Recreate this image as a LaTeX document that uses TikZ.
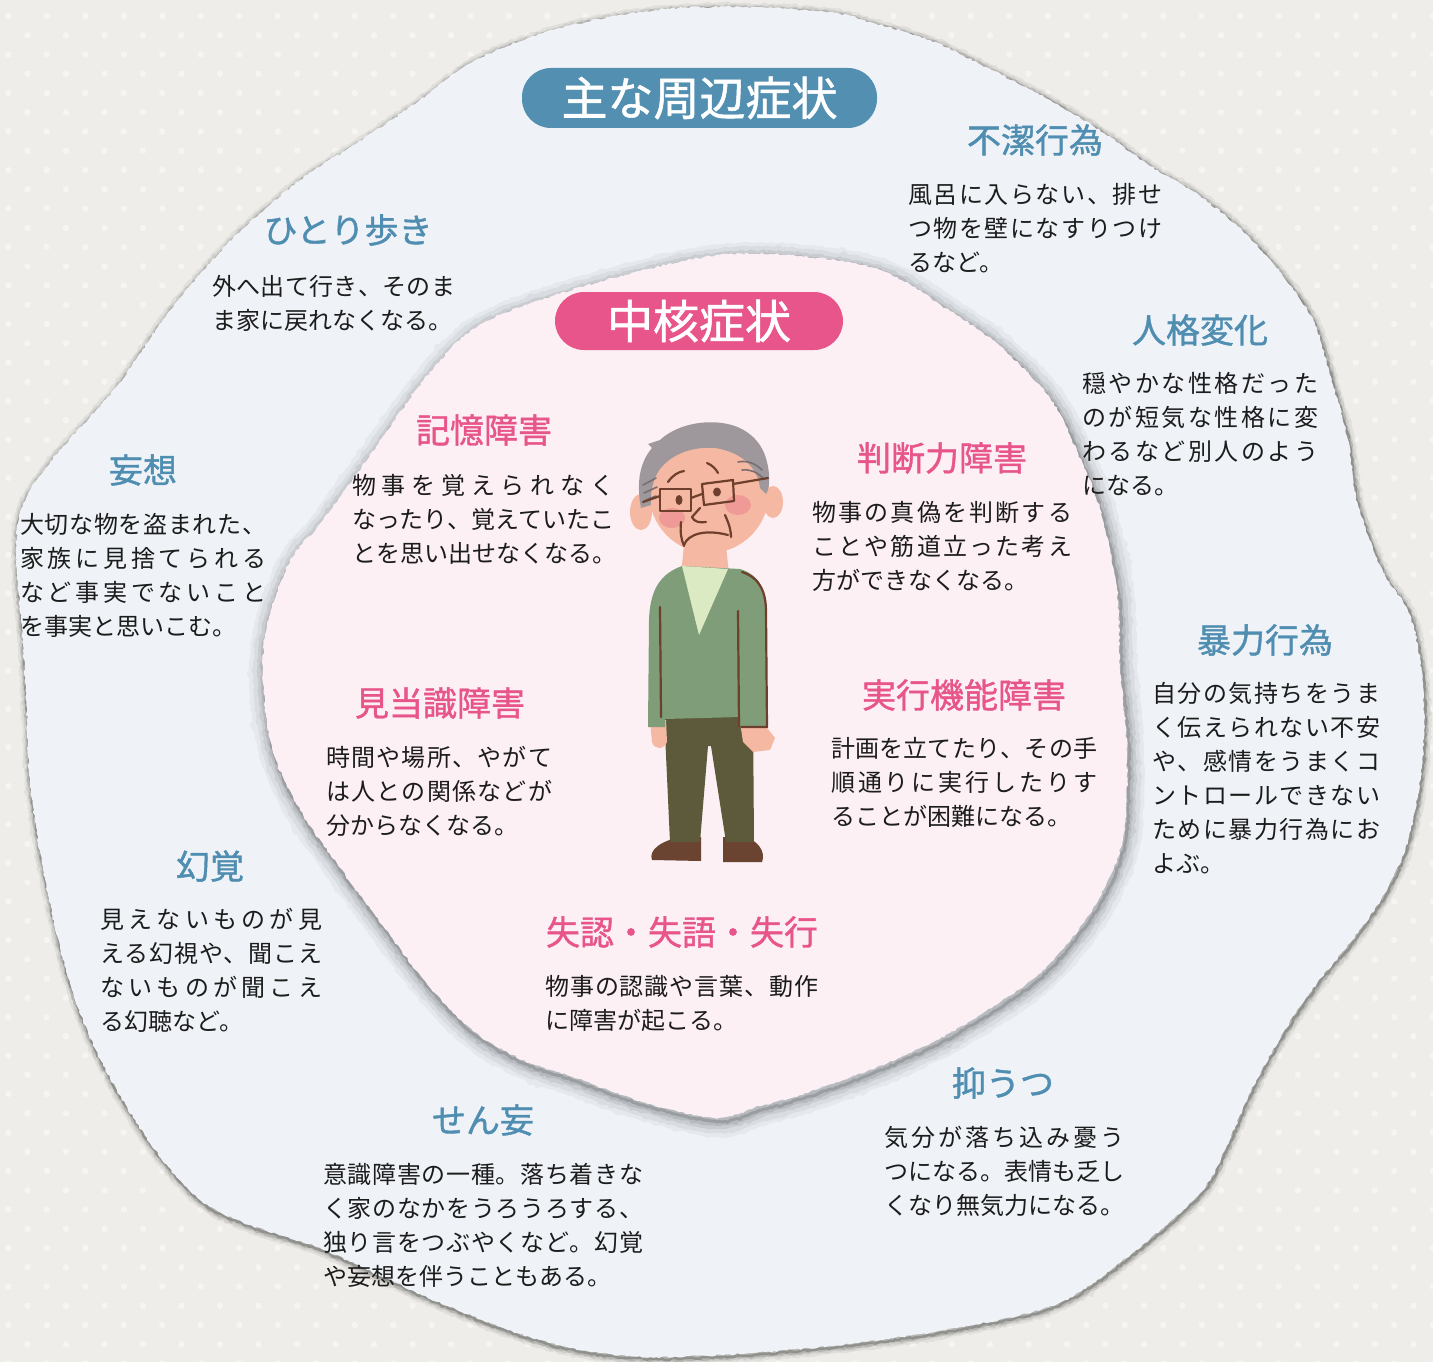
\documentclass[tikz,border=0pt]{standalone}
\usepackage{fontspec}
\newfontfamily\jp{Noto Sans CJK JP}
\newfontfamily\jph{Noto Sans CJK JP}[FakeBold=1.2]
\usetikzlibrary{decorations.pathmorphing}

\definecolor{bgc}{HTML}{EFEDE9}
\definecolor{dotc}{HTML}{F7F5F2}
\definecolor{outerc}{HTML}{EFF3F8}
\definecolor{innerc}{HTML}{FCF0F4}
\definecolor{bluec}{HTML}{4F8DB1}
\definecolor{pillblue}{HTML}{528FB1}
\definecolor{pinkc}{HTML}{E8558A}
\definecolor{textc}{HTML}{1C1C1C}
\definecolor{skin}{HTML}{F5B8A2}
\definecolor{hairc}{HTML}{9E979B}
\definecolor{hairline}{HTML}{7A6E70}
\definecolor{brownl}{HTML}{6E3F2C}
\definecolor{cheek}{HTML}{EF9A96}
\definecolor{sweater}{HTML}{7F9D78}
\definecolor{vneck}{HTML}{DCEAC4}
\definecolor{pants}{HTML}{5C5A3A}
\definecolor{shoe}{HTML}{6B4331}

% one justified line of Japanese text, spread to a given width
\makeatletter
\newcommand\jline[2]{\hbox to #1pt{\jl@first#2\jl@end}}
\def\jl@end{\jl@end@}
\def\jl@first#1{#1\jl@loop}
\def\jl@loop#1{\ifx#1\jl@end\else\jl@glue#1\expandafter\jl@loop\fi}
\def\jl@glue{\hskip 0pt plus 1fil minus 1pt}
\makeatother

\tikzset{
  outerblob/.style={insert path={plot[smooth cycle,tension=0.55] coordinates {
    (560,28) (656,10) (740,7) (829,12) (870,22) (930,40) (986,67) (1050,100)
    (1104,133) (1150,166) (1200,196) (1250,238) (1290,285) (1315,325) (1333,385)
    (1348,440) (1358,505) (1383,572) (1410,615) (1423,685) (1422,765) (1408,840)
    (1385,893) (1350,943) (1317,983) (1283,1033) (1250,1093) (1225,1150) (1200,1193)
    (1136,1250) (1059,1303) (957,1328) (855,1343) (753,1353) (651,1357) (580,1350)
    (517,1333) (450,1307) (383,1277) (317,1247) (250,1225) (200,1200) (150,1143)
    (100,1059) (67,974) (43,869) (30,784) (27,720) (23,645) (17,569) (20,512)
    (50,462) (117,386) (167,314) (233,238) (300,180) (357,143) (420,100) (475,60)}}},
  innerblob/.style={insert path={plot[smooth cycle,tension=0.55] coordinates {
    (720,255) (800,256) (883,271) (950,311) (1000,346) (1050,398) (1077,451)
    (1100,509) (1117,590) (1120,665) (1127,752) (1123,839) (1100,897) (1067,944)
    (1033,979) (983,1013) (933,1042) (867,1071) (800,1095) (760,1106) (715,1118)
    (640,1101) (573,1077) (523,1060) (473,1031) (427,984) (383,926) (340,868)
    (300,810) (273,752) (263,683) (267,625) (290,561) (323,520) (373,451)
    (423,381) (473,329) (540,300) (640,271)}}},
  torn/.style={decorate,decoration={random steps,segment length=3pt,amplitude=1pt}},
  bluehd/.style={font=\jph\fontsize{34}{40}\selectfont,text=bluec,inner sep=0pt},
  pinkhd/.style={font=\jph\fontsize{34}{40}\selectfont,text=pinkc,inner sep=0pt},
  body/.style={font=\jp\fontsize{24}{34}\selectfont,text=textc,align=left,anchor=north west,inner sep=0pt},
  pill/.style={rounded corners=29pt,minimum height=60pt,text=white,inner sep=0pt,
    font=\jph\fontsize{46}{50}\selectfont},
  fig/.style={line width=2.2pt,draw=brownl,line cap=round,line join=round},
}

\begin{document}
\begin{tikzpicture}[x=1pt,y=-1pt]
\useasboundingbox (0,0) rectangle (1433,1362);

% dotted paper background
\fill[bgc] (0,0) rectangle (1433,1362);
\foreach \i in {0,...,37}{
  \foreach \j in {0,...,35}{
    \fill[dotc] (8.3+38.5*\i,16+38.5*\j) circle (3.2);
    \fill[dotc] (27.5+38.5*\i,35.3+38.5*\j) circle (3.2);
  }
}

% outer torn sheet with its shadow
\foreach \w/\o in {12/0.06,8/0.08,5/0.12,2.5/0.2}{
  \draw[black,line width=\w pt,opacity=\o,torn,shift={(1,2)}] [outerblob];
}
\fill[outerc,torn] [outerblob];

% inner torn sheet with its shadow
\foreach \w/\o in {30/0.04,22/0.05,14/0.07,8/0.09,3/0.15}{
  \draw[black,line width=\w pt,opacity=\o,torn,shift={(2,4)}] [innerblob];
}
\fill[innerc,torn] [innerblob];

% title pills
\node[pill,fill=pillblue,minimum width=355pt] (periph) at (699.5,98) {主な周辺症状};
\node[pill,fill=pinkc,minimum width=288pt,minimum height=58pt] (core) at (699,321) {中核症状};

% peripheral symptoms
\node[bluehd] (h-fuketsu) at (1035,140) {不潔行為};
\node[body] (b-fuketsu) at (908,183) {\jline{254}{風呂に入らない、排せ}\\\jline{254}{つ物を壁になすりつけ}\\るなど。};
\node[bluehd] (h-jinkaku) at (1200,330) {人格変化};
\node[body] (b-jinkaku) at (1082,372) {\jline{236}{穏やかな性格だった}\\\jline{236}{のが短気な性格に変}\\\jline{236}{わるなど別人のよう}\\になる。};
\node[bluehd] (h-boryoku) at (1265,640) {暴力行為};
\node[body] (b-boryoku) at (1152,682) {\jline{228}{自分の気持ちをうま}\\\jline{228}{く伝えられない不安}\\\jline{228}{や、感情をうまくコ}\\\jline{228}{ントロールできない}\\\jline{228}{ために暴力行為にお}\\よぶ。};
\node[bluehd] (h-yokuutsu) at (1003,1083) {抑うつ};
\node[body] (b-yokuutsu) at (884,1126) {\jline{240}{気分が落ち込み憂う}\\\jline{240}{つになる。表情も乏し}\\くなり無気力になる。};
\node[bluehd] (h-senmou) at (483,1120) {せん妄};
\node[body] (b-senmou) at (323,1163) {\jline{320}{意識障害の一種。落ち着きな}\\\jline{320}{く家のなかをうろうろする、}\\\jline{320}{独り言をつぶやくなど。幻覚}\\や妄想を伴うこともある。};
\node[bluehd] (h-genkaku) at (210,866) {幻覚};
\node[body] (b-genkaku) at (100,908) {\jline{222}{見えないものが見}\\\jline{222}{える幻視や、聞こえ}\\\jline{222}{ないものが聞こえ}\\る幻聴など。};
\node[bluehd] (h-mousou) at (143,470) {妄想};
\node[body] (b-mousou) at (20,513) {\jline{246}{大切な物を盗まれた、}\\\jline{246}{家族に見捨てられる}\\\jline{246}{など事実でないこと}\\を事実と思いこむ。};
\node[bluehd] (h-hitori) at (348,230) {ひとり歩き};
\node[body] (b-hitori) at (212,275) {\jline{243}{外へ出て行き、そのま}\\ま家に戻れなくなる。};

% core symptoms
\node[pinkhd] (h-kioku) at (484,430) {記憶障害};
\node[body] (b-kioku) at (352,474) {\jline{262}{物事を覚えられなく}\\\jline{262}{なったり、覚えていたこ}\\とを思い出せなくなる。};
\node[pinkhd] (h-handan) at (942,458) {判断力障害};
\node[body] (b-handan) at (812,501) {\jline{260}{物事の真偽を判断する}\\\jline{260}{ことや筋道立った考え}\\方ができなくなる。};
\node[pinkhd] (h-kentou) at (440,703) {見当識障害};
\node[body] (b-kentou) at (326,746) {\jline{226}{時間や場所、やがて}\\\jline{226}{は人との関係などが}\\分からなくなる。};
\node[pinkhd] (h-jikkou) at (964,695) {実行機能障害};
\node[body] (b-jikkou) at (831,737) {\jline{266}{計画を立てたり、その手}\\\jline{266}{順通りに実行したりす}\\ることが困難になる。};
\node[pinkhd] (h-shitsunin) at (682,932) {失認・失語・失行};
\node[body] (b-shitsunin) at (545,975) {\jline{273}{物事の認識や言葉、動作}\\に障害が起こる。};

% elderly man
% shoes
\fill[shoe] (652,860) .. controls (648,850) and (662,840) .. (682,837) -- (701,837) -- (701,861) -- cycle;
\fill[shoe] (723,837) -- (744,837) .. controls (758,840) and (766,852) .. (762,862) -- (723,862) -- cycle;
% trousers
\fill[pants] (664,712) -- (753,712) -- (754,842) -- (726,842) -- (711,746) -- (708,746) -- (700,842) -- (670,842) -- cycle;
% hands
\fill[skin] (650,720) -- (666,720) -- (667,742) .. controls (664,750) and (654,750) .. (652,742) -- cycle;
\fill[skin] (740,722) -- (764,724) -- (775,738) -- (770,750) -- (753,752) -- (743,742) -- cycle;
% neck
\fill[skin] (684,545) -- (726,545) -- (729,575) -- (681,575) -- cycle;
% sweater
\fill[sweater] (682,566) -- (740,569) .. controls (760,575) and (766,590) .. (766,612) -- (767,727)
  -- (740,728) -- (740,717) -- (665,719) -- (665,727) -- (648,727) -- (649,620)
  .. controls (650,590) and (660,574) .. (682,566) -- cycle;
\fill[vneck] (682,566) -- (728,569) -- (699,635) -- cycle;
\draw[fig] (742,572) .. controls (760,578) and (766,592) .. (766,612) -- (767,727) -- (741,727);
\draw[fig] (660,607) -- (661,717);
\draw[fig] (738,611) -- (739,726);
% ears and face
\fill[skin] (641,512) ellipse (11 and 18);
\fill[skin] (773,502) ellipse (10 and 16);
\fill[skin] (709,492) ellipse (60 and 61);
% hair
\fill[hairc] (641,508) .. controls (636,482) and (640,462) .. (652,448) -- (648,444) -- (660,440)
  .. controls (675,426) and (700,420) .. (722,423) .. controls (745,426) and (762,440) .. (767,462)
  .. controls (771,478) and (769,490) .. (766,494) -- (760,488)
  .. controls (758,468) and (742,452) .. (715,448) .. controls (690,446) and (668,456) .. (658,472)
  .. controls (652,482) and (650,496) .. (651,505) -- cycle;
\draw[hairline,line width=1.6pt,line cap=round] (643,485) -- (656,478) (644,493) -- (657,487) (646,500) -- (656,496);
\draw[hairline,line width=1.6pt,line cap=round] (738,462) .. controls (748,460) and (756,464) .. (762,470)
  (742,470) .. controls (750,469) and (757,472) .. (763,478);
% cheeks
\fill[cheek] (672,518) ellipse (13 and 10);
\fill[cheek] (738,505) ellipse (13 and 10);
% glasses
\draw[fig] (660,489) rectangle (691,511);
\draw[fig] (702,484) -- (733,480) -- (734,501) -- (704,505) -- cycle;
\draw[fig] (691,498) -- (702,494);
\draw[fig] (733,484) -- (768,478);
\draw[fig] (660,496) -- (643,502);
% eyes and brows
\fill[brownl] (679,500) ellipse (3.5 and 5);
\fill[brownl] (717,492) ellipse (4 and 4.5);
\draw[fig] (668,482) .. controls (673,475) and (678,472) .. (684,471);
\draw[fig] (707,463) .. controls (712,465) and (716,469) .. (718,473);
% nose, cheek lines and mouth
\draw[fig] (700,508) -- (692,517) .. controls (694,522) and (700,523) .. (706,522);
\draw[fig] (681,522) .. controls (680,532) and (681,539) .. (684,546);
\draw[fig] (725,515) .. controls (729,524) and (731,530) .. (731,537);
\draw[fig] (684,545) .. controls (688,534) and (705,529) .. (728,535);
\end{tikzpicture}
\end{document}
